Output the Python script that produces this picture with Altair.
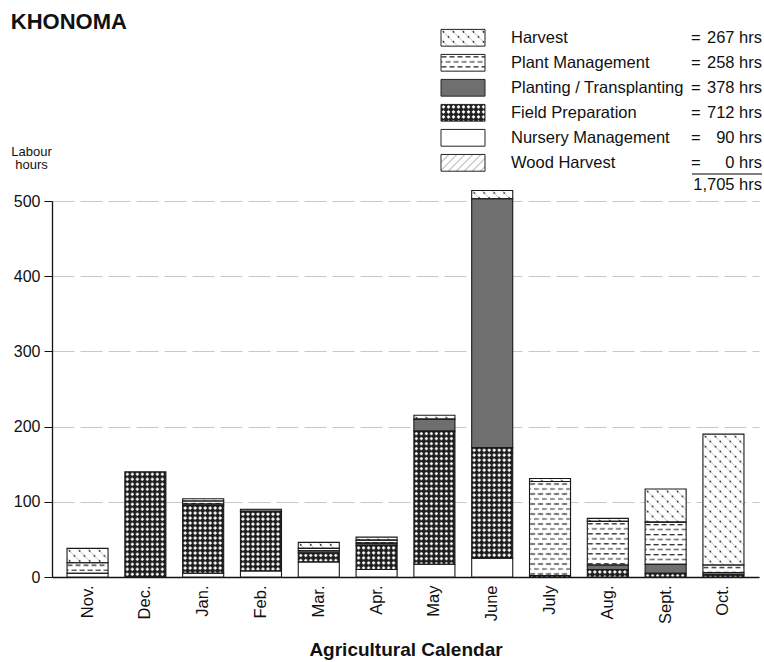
import base64
import altair as alt
import pandas as pd

# ---------------- data ----------------
months = ["Nov.", "Dec.", "Jan.", "Feb.", "Mar.", "Apr.", "May", "June", "July", "Aug.", "Sept.", "Oct."]
nursery_management     = [5, 0, 5, 8, 20, 10, 17, 25, 0, 0, 0, 0]
field_preparation      = [0, 140, 90, 79, 12, 32, 177, 147, 2, 10, 5, 3]
planting_transplanting = [0, 0, 2, 3, 3, 3, 16, 331, 0, 6, 12, 3]
plant_management       = [14, 0, 4, 0, 3, 4, 0, 0, 125, 58, 56, 10]
harvest                = [19, 0, 3, 0, 8, 4, 5, 11, 4, 4, 44, 174]
wood_harvest           = [0, 0, 0, 0, 0, 0, 0, 0, 0, 0, 0, 0]

legend_activities = ["Harvest", "Plant Management", "Planting / Transplanting",
                     "Field Preparation", "Nursery Management", "Wood Harvest"]
legend_totals = ["267 hrs", "258 hrs", "378 hrs", "712 hrs", "90 hrs", "0 hrs"]
grand_total = "1,705 hrs"
y_ticks = [0, 100, 200, 300, 400, 500]

# stacking order, bottom to top
stack_order = ["Nursery Management", "Field Preparation", "Planting / Transplanting",
               "Plant Management", "Harvest", "Wood Harvest"]
series = {
    "Nursery Management": nursery_management,
    "Field Preparation": field_preparation,
    "Planting / Transplanting": planting_transplanting,
    "Plant Management": plant_management,
    "Harvest": harvest,
    "Wood Harvest": wood_harvest,
}

# ---------------- fill patterns (SVG tiles) ----------------
def pattern_url(w, h, bg, body):
    svg = ('<svg xmlns="http://www.w3.org/2000/svg" width="100%" height="100%">'
           f'<defs><pattern id="p" patternUnits="userSpaceOnUse" width="{w}" height="{h}">'
           f'<rect width="{w}" height="{h}" fill="{bg}"/>{body}</pattern></defs>'
           '<rect width="100%" height="100%" fill="url(#p)"/></svg>')
    return "data:image/svg+xml;base64," + base64.b64encode(svg.encode()).decode()

patterns = {
    "Harvest": pattern_url(10, 10, "#ffffff",
        '<line x1="0" y1="0" x2="10" y2="10" stroke="#a8a8a8" stroke-width="0.7"/>'
        '<circle cx="2.5" cy="2.5" r="0.85" fill="#111"/><circle cx="7.5" cy="7.5" r="0.85" fill="#111"/>'),
    "Plant Management": pattern_url(8, 10, "#ffffff",
        '<line x1="0.5" y1="2.5" x2="5.5" y2="2.5" stroke="#111" stroke-width="1.2"/>'
        '<line x1="4.5" y1="7.5" x2="8" y2="7.5" stroke="#444" stroke-width="1.2"/>'
        '<line x1="0" y1="7.5" x2="1.5" y2="7.5" stroke="#444" stroke-width="1.2"/>'),
    "Planting / Transplanting": pattern_url(4, 4, "#6f6f6f", ''),
    "Field Preparation": pattern_url(5, 5, "#1e1e1e",
        '<polygon points="2.5,0.6 4.4,2.5 2.5,4.4 0.6,2.5" fill="#ffffff"/>'),
    "Nursery Management": pattern_url(4, 4, "#ffffff", ''),
    "Wood Harvest": pattern_url(8, 8, "#ffffff",
        '<line x1="0" y1="8" x2="8" y2="0" stroke="#777" stroke-width="0.7"/>'),
}
base_fill = {
    "Harvest": "#eeeeee", "Plant Management": "#dddddd", "Planting / Transplanting": "#6f6f6f",
    "Field Preparation": "#555555", "Nursery Management": "#ffffff", "Wood Harvest": "#f4f4f4",
}

rows = []
for i, m in enumerate(months):
    for o, name in enumerate(stack_order):
        v = series[name][i]
        if v > 0:
            rows.append({"month": m, "activity": name, "hours": v, "order": o,
                         "url": patterns[name]})
df = pd.DataFrame(rows)

FONT = "Liberation Sans, Arial, sans-serif"
INK = "#111111"
LEG_FS = 16.5

base = alt.Chart(df).transform_stack(
    stack="hours", as_=["y0", "y1"], groupby=["month"],
    sort=[alt.SortField(field="order", order="ascending")],
)

x_enc = alt.X(
    "month:N", sort=months,
    scale=alt.Scale(paddingInner=0.29, paddingOuter=0.26),
    axis=alt.Axis(title="Agricultural Calendar", titleFontSize=19, titleFontWeight="bold",
                  titleColor=INK, titlePadding=17, labelAngle=-90, labelFontSize=16.5,
                  labelColor=INK, labelPadding=8, ticks=False, domainColor=INK,
                  domainWidth=1.5),
)
y_enc = alt.Y(
    "y0:Q", scale=alt.Scale(domain=[0, 500], nice=False),
    axis=alt.Axis(values=y_ticks, title=["Labour", "hours"], titleAngle=0, titleX=-21,
                  titleY=-46, titleAlign="center", titleBaseline="alphabetic",
                  titleFontSize=13, titleFontWeight="normal", titleLineHeight=13.5,
                  titleColor=INK, labelFontSize=16, labelColor=INK, labelPadding=4,
                  tickSize=8, tickColor=INK, domainColor=INK, domainWidth=1.3,
                  grid=True, gridColor="#c8c8c8", gridDash=[22, 6], gridWidth=1.2),
)

bars_fill = base.mark_bar().encode(
    x=x_enc, y=y_enc, y2="y1:Q",
    color=alt.Color("activity:N", scale=alt.Scale(domain=list(base_fill.keys()),
                                                  range=list(base_fill.values())), legend=None),
)
bars_img = base.mark_image(aspect=False, width=alt.RelativeBandSize(band=1)).encode(
    x=x_enc, y=y_enc, y2="y1:Q", url="url:N",
)
bars_outline = base.mark_bar(fillOpacity=0, stroke="#1a1a1a", strokeWidth=1.1).encode(
    x=x_enc, y=y_enc, y2="y1:Q",
)
main = alt.layer(bars_fill, bars_img, bars_outline)

# ---------------- custom legend ----------------
leg_df = pd.DataFrame({"activity": legend_activities, "total": legend_totals})
leg_df["url"] = leg_df["activity"].map(patterns)
leg_y = alt.Y("activity:N", sort=legend_activities,
              scale=alt.Scale(range=[-171.6, -29.8], paddingInner=0.33, paddingOuter=0),
              axis=None)

leg_img = alt.Chart(leg_df).mark_image(aspect=False, height=alt.RelativeBandSize(band=1)).encode(
    x=alt.value(389), x2=alt.value(433), y=leg_y, url="url:N")
leg_box = alt.Chart(leg_df).mark_bar(fillOpacity=0, stroke="#222", strokeWidth=1).encode(
    x=alt.value(389), x2=alt.value(433), y=leg_y)
leg_label = alt.Chart(leg_df).mark_text(align="left", baseline="middle", fontSize=LEG_FS,
                                        font=FONT, color=INK).encode(
    x=alt.value(459), y=leg_y, text="activity:N")
leg_eq = alt.Chart(leg_df).mark_text(align="left", baseline="middle", fontSize=LEG_FS,
                                     font=FONT, color=INK).encode(
    x=alt.value(639), y=leg_y, text=alt.value("="))
leg_val = alt.Chart(leg_df).mark_text(align="right", baseline="middle", fontSize=LEG_FS,
                                      font=FONT, color=INK).encode(
    x=alt.value(710), y=leg_y, text="total:N")

total_df = pd.DataFrame({"total": [grand_total]})
total_rule = alt.Chart(total_df).mark_rule(color="#555", strokeWidth=1.3).encode(
    x=alt.value(640), x2=alt.value(710), y=alt.value(-27))
total_text = alt.Chart(total_df).mark_text(align="right", baseline="middle", fontSize=LEG_FS,
                                           font=FONT, color=INK).encode(
    x=alt.value(710), y=alt.value(-16), text="total:N")

legend = alt.layer(leg_img, leg_box, leg_label, leg_eq, leg_val, total_rule, total_text)

chart = alt.layer(main, legend).resolve_scale(y="independent").properties(
    width=707, height=376,
    padding={"left": 52, "top": 201, "right": 5, "bottom": 85},
    autosize=alt.AutoSizeParams(type="none"),
    title=alt.TitleParams("KHONOMA", anchor="start", fontSize=22, fontWeight="bold",
                          font=FONT, color=INK, dx=0, dy=9),
).configure_view(stroke=None).configure_axis(labelFont=FONT, titleFont=FONT)

chart.save("out.html", embed_options={"renderer": "svg", "actions": False})
